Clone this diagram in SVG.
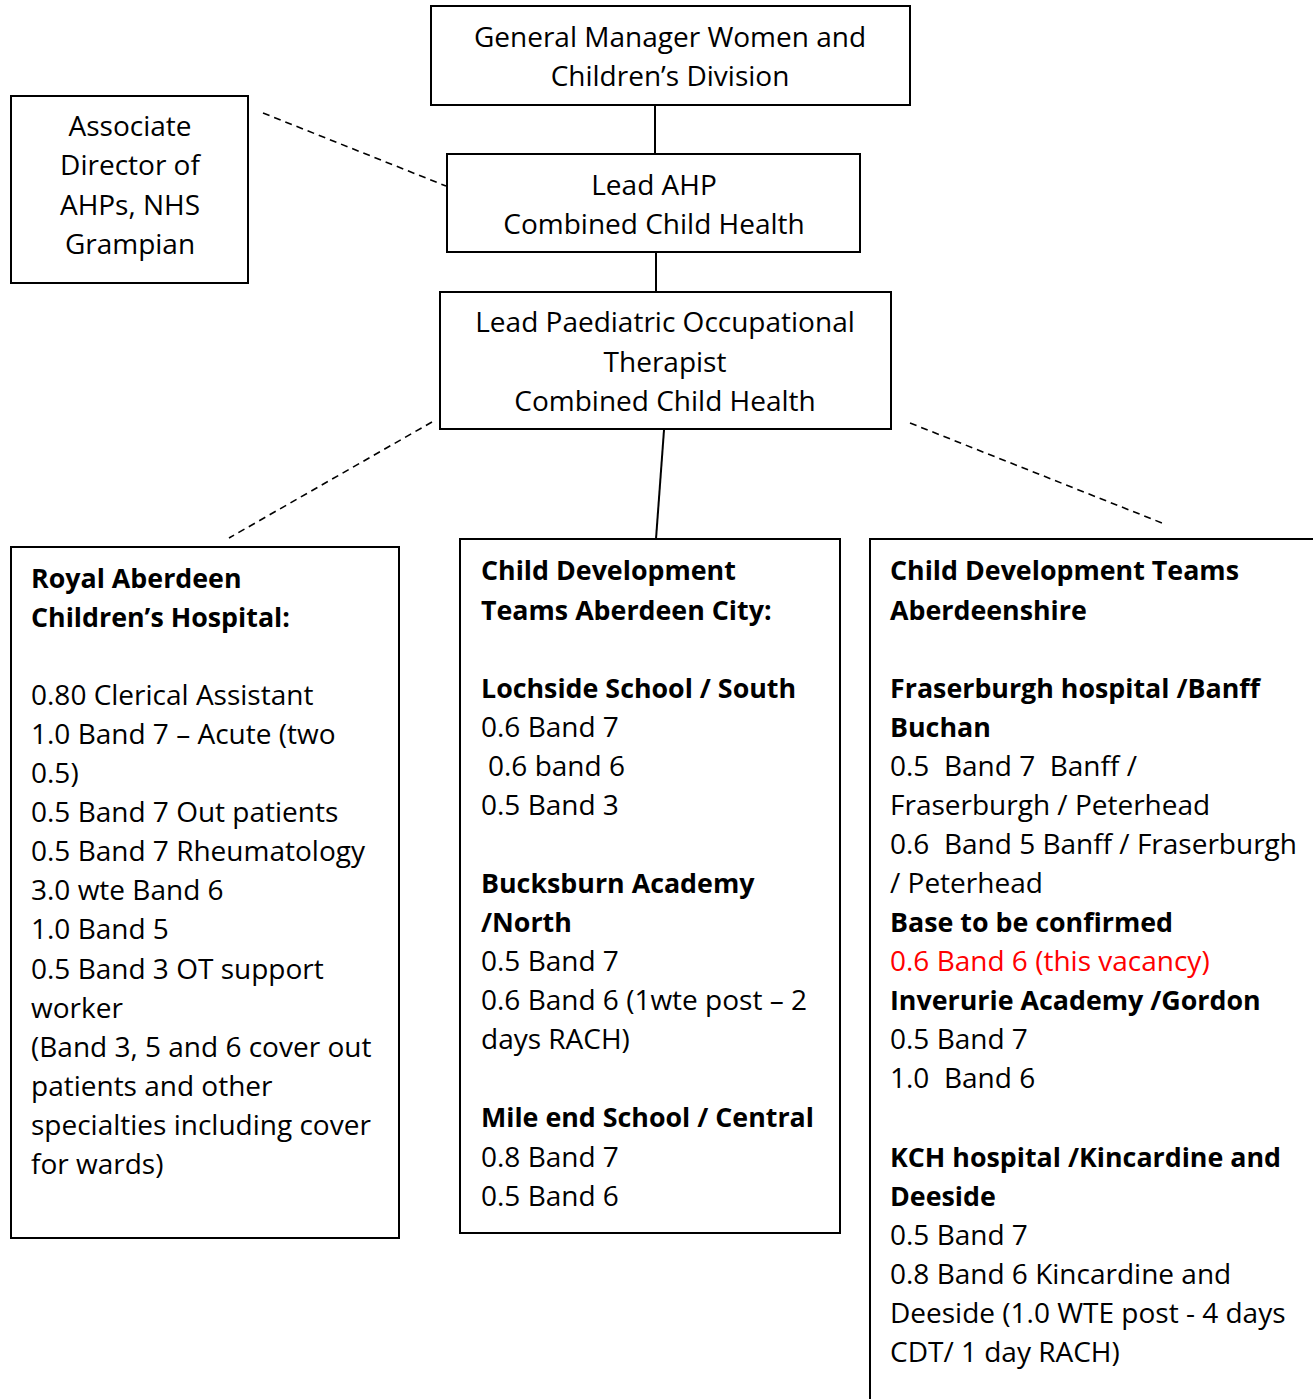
<svg xmlns="http://www.w3.org/2000/svg" width="1313" height="1399" viewBox="0 0 1313 1399">
<style>
.box{fill:#fff;stroke:#000;stroke-width:2}
.t{font-family:"Open Sans","Liberation Sans",sans-serif;font-size:28px;fill:#000}
.c{text-anchor:middle}
.b{font-weight:700;font-size:26.8px}
.r{fill:#ff0000}
.ln{stroke:#000;stroke-width:2;fill:none}
.dl{stroke:#000;stroke-width:1.6;fill:none;stroke-dasharray:7 5}
</style>
<rect width="1313" height="1399" fill="#fff"/>
<g id="connectors">
<line class="ln" x1="655" y1="105" x2="655" y2="154"/>
<line class="ln" x1="656" y1="252" x2="656" y2="292"/>
<line class="ln" x1="664" y1="430" x2="656" y2="539"/>
<line class="dl" x1="263" y1="113" x2="446" y2="186"/>
<line class="dl" x1="432" y1="422" x2="229" y2="538"/>
<line class="dl" x1="910" y1="423" x2="1162" y2="523"/>
</g>
<g id="gm">
<rect class="box" x="431" y="6" width="479" height="99"/>
<text class="t c" x="670" y="47">General Manager Women and</text>
<text class="t c" x="670" y="86">Children’s Division</text>
</g>
<g id="assoc">
<rect class="box" x="11" y="96" width="237" height="187"/>
<text class="t c" x="130" y="136">Associate</text>
<text class="t c" x="130" y="175">Director of</text>
<text class="t c" x="130" y="215">AHPs, NHS</text>
<text class="t c" x="130" y="254">Grampian</text>
</g>
<g id="leadahp">
<rect class="box" x="447" y="154" width="413" height="98"/>
<text class="t c" x="654" y="195">Lead AHP</text>
<text class="t c" x="654" y="234">Combined Child Health</text>
</g>
<g id="lpot">
<rect class="box" x="440" y="292" width="451" height="137"/>
<text class="t c" x="665" y="332">Lead Paediatric Occupational</text>
<text class="t c" x="665" y="372">Therapist</text>
<text class="t c" x="665" y="411">Combined Child Health</text>
</g>
<g id="rach">
<rect class="box" x="11" y="547" width="388" height="691"/>
<g class="t">
<text class="b" x="31" y="588">Royal Aberdeen</text>
<text class="b" x="31" y="627">Children’s Hospital:</text>
<text x="31" y="705">0.80 Clerical Assistant</text>
<text x="31" y="744">1.0 Band 7 – Acute (two</text>
<text x="31" y="783">0.5)</text>
<text x="31" y="822">0.5 Band 7 Out patients</text>
<text x="31" y="861">0.5 Band 7 Rheumatology</text>
<text x="31" y="900">3.0 wte Band 6</text>
<text x="31" y="939">1.0 Band 5</text>
<text x="31" y="979">0.5 Band 3 OT support</text>
<text x="31" y="1018">worker</text>
<text x="31" y="1057">(Band 3, 5 and 6 cover out</text>
<text x="31" y="1096">patients and other</text>
<text x="31" y="1135">specialties including cover</text>
<text x="31" y="1174">for wards)</text>
</g>
</g>
<g id="cdt-city">
<rect class="box" x="460" y="539" width="380" height="694"/>
<g class="t">
<text class="b" x="481" y="580">Child Development</text>
<text class="b" x="481" y="620">Teams Aberdeen City:</text>
<text class="b" x="481" y="698">Lochside School / South</text>
<text x="481" y="737">0.6 Band 7</text>
<text x="488" y="776">0.6 band 6</text>
<text x="481" y="815">0.5 Band 3</text>
<text class="b" x="481" y="893">Bucksburn Academy</text>
<text class="b" x="481" y="932">/North</text>
<text x="481" y="971">0.5 Band 7</text>
<text x="481" y="1010">0.6 Band 6 (1wte post – 2</text>
<text x="481" y="1049">days RACH)</text>
<text class="b" x="481" y="1127">Mile end School / Central</text>
<text x="481" y="1167">0.8 Band 7</text>
<text x="481" y="1206">0.5 Band 6</text>
</g>
</g>
<g id="cdt-shire">
<rect class="box" x="870" y="539" width="460" height="880"/>
<g class="t">
<text class="b" x="890" y="580">Child Development Teams</text>
<text class="b" x="890" y="620">Aberdeenshire</text>
<text class="b" x="890" y="698">Fraserburgh hospital /Banff</text>
<text class="b" x="890" y="737">Buchan</text>
<text x="890" y="776" xml:space="preserve">0.5  Band 7  Banff /</text>
<text x="890" y="815">Fraserburgh / Peterhead</text>
<text x="890" y="854" xml:space="preserve">0.6  Band 5 Banff / Fraserburgh</text>
<text x="890" y="893">/ Peterhead</text>
<text class="b" x="890" y="932">Base to be confirmed</text>
<text class="r" x="890" y="971">0.6 Band 6 (this vacancy)</text>
<text class="b" x="890" y="1010">Inverurie Academy /Gordon</text>
<text x="890" y="1049">0.5 Band 7</text>
<text x="890" y="1088" xml:space="preserve">1.0  Band 6</text>
<text class="b" x="890" y="1167">KCH hospital /Kincardine and</text>
<text class="b" x="890" y="1206">Deeside</text>
<text x="890" y="1245">0.5 Band 7</text>
<text x="890" y="1284">0.8 Band 6 Kincardine and</text>
<text x="890" y="1323">Deeside (1.0 WTE post - 4 days</text>
<text x="890" y="1362">CDT/ 1 day RACH)</text>
</g>
</g>
</svg>
